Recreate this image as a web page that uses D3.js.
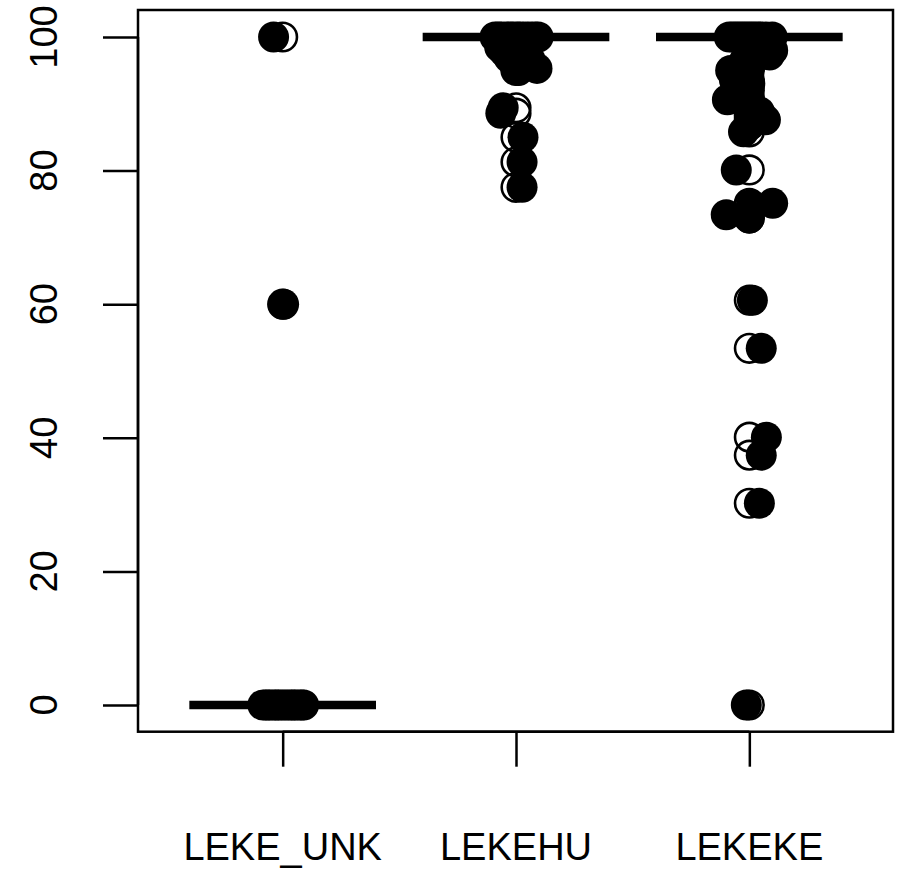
<!DOCTYPE html>
<html><head><meta charset="utf-8">
<script src="https://cdn.jsdelivr.net/npm/d3@7"></script>
<style>body{margin:0;background:#fff}svg{display:block}</style>
</head><body>
<script>
// ---- data ----
const categories = ["LEKE_UNK", "LEKEHU", "LEKEKE"];
const yTicks = [0, 20, 40, 60, 80, 100];
const medians = [0, 100, 100];

// jittered observations (value, jitter offset in category units)
const valuesUNK = [100, 60, 0,0,0,0,0,0,0,0,0,0,0,0,0,0];
const jitterUNK = [-0.039, 0.004, -0.085,-0.07,-0.06,-0.045,-0.03,-0.02,-0.005,0.01,0.025,0.04,0.05,0.065,0.08,0.09];

const valuesHU = [100,100,100,100,100,100,100,100,100,100,100,100,
  98.5, 97.8, 96.9, 96.6, 95.7, 95.3, 95.0, 89.4, 88.6, 85.0, 81.3, 77.5];
const jitterHU = [-0.09,-0.075,-0.06,-0.04,-0.025,-0.01,0.005,0.02,0.04,0.06,0.08,0.095,
  -0.07, -0.05, -0.03, 0.06, 0.0, 0.09, 0.01, -0.055, -0.065, 0.03, 0.026, 0.026];

const valuesKE = [100,100,100,100,100,100,100,100,100,100,100,100,
  98, 97.3, 96.5, 95.5, 95, 93.6, 93, 92, 91, 90.6, 88.8, 88.2, 87.6, 86.8, 85.8,
  80.1, 75.1, 74.8, 73.4, 72.9, 60.6, 53.4, 40.1, 37.4, 30.2, 0];
const jitterKE = [-0.086,-0.07,-0.055,-0.04,-0.025,-0.01,0.005,0.02,0.035,0.05,0.07,0.098,
  0.1, 0.086, -0.02, 0.0, -0.08, -0.064, 0.002, -0.043, -0.005, -0.094, 0.043, 0.005, 0.069, 0.0, -0.025,
  -0.056, 0.1, 0.009, -0.099, 0.0, 0.013, 0.051, 0.073, 0.051, 0.043, -0.013];

const groups = [
  {values: valuesUNK, jitter: jitterUNK},
  {values: valuesHU, jitter: jitterHU},
  {values: valuesKE, jitter: jitterKE}
];

// ---- layout ----
const W = 900, H = 869;
const svg = d3.select("body").append("svg").attr("width", W).attr("height", H);
const x = d3.scaleLinear().domain([0.38, 3.62]).range([138, 894]);
const y = d3.scaleLinear().domain([-4, 104]).range([731.7, 10.3]);
const font = "'Liberation Sans', Arial, sans-serif";

// frame
svg.append("rect").attr("x", 138).attr("y", 10).attr("width", 893-138).attr("height", 731.7-10)
  .attr("fill", "none").attr("stroke", "#000").attr("stroke-width", 2.5);

// y axis
const yAxis = svg.append("g").attr("transform", "translate(138,0)")
  .call(d3.axisLeft(y).tickValues(yTicks).tickSize(35).tickFormat(""));
yAxis.select(".domain").attr("d", `M0,${y(0)}V${y(100)}`).attr("stroke-width", 2.5);
yAxis.selectAll(".tick line").attr("stroke-width", 2.5);
svg.append("g").selectAll("text").data(yTicks).join("text")
  .attr("transform", d => `translate(57,${y(d)}) rotate(-90)`)
  .attr("text-anchor", "middle").attr("font-family", font).attr("font-size", 38)
  .text(d => d);

// x axis
const xAxis = svg.append("g").attr("transform", `translate(0,731.7)`)
  .call(d3.axisBottom(x).tickValues([1,2,3]).tickSize(35).tickFormat(""));
xAxis.select(".domain").attr("d", `M${x(1)},0H${x(3)}`).attr("stroke-width", 2.5);
xAxis.selectAll(".tick line").attr("stroke-width", 2.5);
svg.append("g").selectAll("text").data(categories).join("text")
  .attr("x", (d,i) => x(i+1)).attr("y", 860)
  .attr("text-anchor", "middle").attr("font-family", font).attr("font-size", 38)
  .text(d => d);

// boxplots (degenerate boxes: median line) + outliers
groups.forEach((g, i) => {
  const c = i + 1, m = medians[i];
  svg.append("line").attr("x1", x(c - 0.4)).attr("x2", x(c + 0.4))
    .attr("y1", y(m)).attr("y2", y(m)).attr("stroke", "#000").attr("stroke-width", 8.5);
  const outl = g.values.filter(v => v !== m);
  svg.append("g").selectAll("circle").data(outl).join("circle")
    .attr("cx", x(c)).attr("cy", d => y(d)).attr("r", 14.3)
    .attr("fill", "none").attr("stroke", "#000").attr("stroke-width", 2.6);
});

// jittered points
groups.forEach((g, i) => {
  const c = i + 1;
  svg.append("g").selectAll("circle").data(g.values.map((v, k) => [v, g.jitter[k]])).join("circle")
    .attr("cx", d => x(c + d[1])).attr("cy", d => y(d[0])).attr("r", 15.5)
    .attr("fill", "#000");
});
</script>
</body></html>
